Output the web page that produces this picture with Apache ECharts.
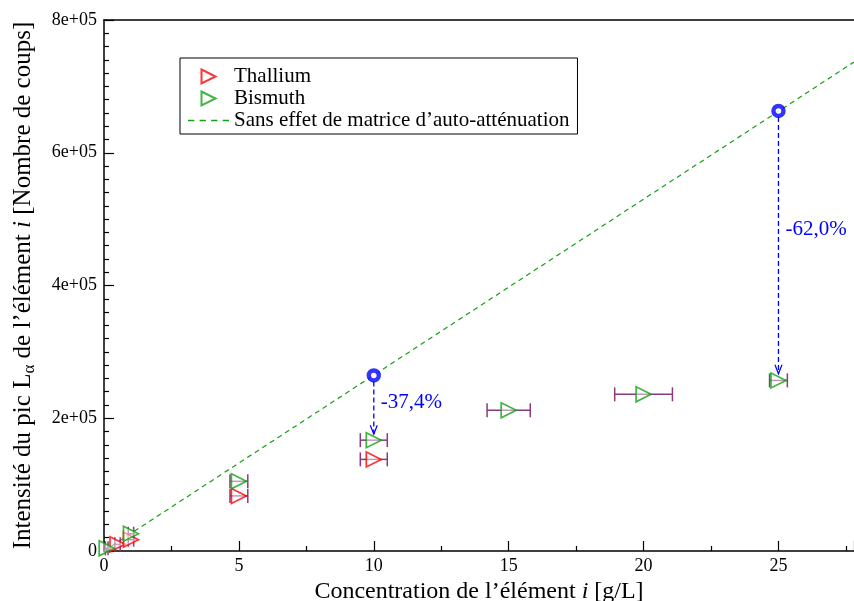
<!DOCTYPE html>
<html><head><meta charset="utf-8">
<script src="https://cdn.jsdelivr.net/npm/echarts@6/dist/echarts.min.js"></script>
<style>html,body{margin:0;padding:0;background:#fff}#c{width:854px;height:601px}</style>
</head><body><div id="c"></div>
<script>
const thalliumX = [0.5, 1.0, 5, 10];
const thalliumY = [10000, 17000, 83000, 138000];
const thalliumXErr = [0.1, 0.1, 0.33, 0.5];
const bismuthX = [0.1, 1.0, 5, 10, 15, 20, 25];
const bismuthY = [4000, 26000, 105000, 167000, 212000, 236000, 257000];
const bismuthXErr = [0.05, 0.1, 0.33, 0.5, 0.8, 1.07, 0.33];
const refLineX = [0, 27.8];
const refLineY = [0, 736700];
const refPointX = [10, 25];
const refPointY = [264500, 663000];
const arrowTipY = [176000, 267000];
const dropLabels = ['-37,4%', '-62,0%'];
const dropLabelY = [224000, 484000];
const xAxisMax = 27.8;
const yAxisMax = 800000;

const FONT = 'Liberation Serif';
const RED = '#ff0000', GREEN = '#14a014', BLUE = '#0000ff', ERR = '#8a3a7e';
const triPath = 'path://M0,0 L14,7 L0,14 Z';
const dashIcon = 'path://M0,0h6v1.3h-6z M11,0h6v1.3h-6z M22,0h6v1.3h-6z M33,0h6v1.3h-6z';

function errData(xs, ys, es) { return xs.map((x, i) => [x, ys[i], x - es[i], x + es[i]]); }
function errRender(params, api) {
  const y = api.value(1);
  const a = api.coord([api.value(2), y]);
  const b = api.coord([api.value(3), y]);
  const st = { stroke: ERR, lineWidth: 1.5 };
  return { type: 'group', children: [
    { type: 'line', shape: { x1: a[0], y1: a[1], x2: b[0], y2: b[1] }, style: st },
    { type: 'line', shape: { x1: a[0], y1: a[1] - 7, x2: a[0], y2: a[1] + 7 }, style: st },
    { type: 'line', shape: { x1: b[0], y1: b[1] - 7, x2: b[0], y2: b[1] + 7 }, style: st }
  ]};
}
const arrowData = refPointX.map((x, i) => [x, refPointY[i], arrowTipY[i], dropLabelY[i]]);
function arrowRender(params, api) {
  const x = api.value(0);
  const top = api.coord([x, api.value(1)]);
  const tip = api.coord([x, api.value(2)]);
  const lab = api.coord([x, api.value(3)]);
  const st = { stroke: BLUE, lineWidth: 1.3, lineDash: [5, 3] };
  return { type: 'group', children: [
    { type: 'line', shape: { x1: top[0], y1: top[1] + 6, x2: tip[0], y2: tip[1] }, style: st },
    { type: 'polyline', shape: { points: [[tip[0] - 3.5, tip[1] - 9], [tip[0], tip[1]], [tip[0] + 3.5, tip[1] - 9]] }, style: { stroke: BLUE, lineWidth: 1.2, fill: null } },
    { type: 'text', x: lab[0] + 7, y: lab[1], style: { text: dropLabels[params.dataIndex], fill: BLUE, font: '21px "' + FONT + '"', verticalAlign: 'middle', align: 'left' } }
  ]};
}

const chart = echarts.init(document.getElementById('c'), null, { renderer: 'canvas' });
chart.setOption({
  animation: false,
  backgroundColor: '#fff',
  grid: { left: 104, top: 20, right: 0, bottom: 50, containLabel: false, outerBoundsMode: 'none' },
  legend: {
    left: 180, top: 58, orient: 'vertical',
    padding: [8, 8, 3, 8], itemGap: 1, itemWidth: 41, itemHeight: 14,
    borderColor: '#000', borderWidth: 1, backgroundColor: '#fff',
    textStyle: { fontFamily: FONT, fontSize: 21, color: '#000', lineHeight: 21 },
    data: ['Thallium', 'Bismuth', { name: 'Sans effet de matrice d\u2019auto-atténuation', icon: dashIcon, itemStyle: { color: GREEN } }]
  },
  xAxis: [{
    type: 'value', min: 0, max: xAxisMax, interval: 5,
    name: 'Concentration de l\u2019élément {it|i} [g/L]', nameLocation: 'middle', nameGap: 25,
    nameTextStyle: { fontFamily: FONT, fontSize: 24, color: '#000', rich: { it: { fontFamily: FONT, fontStyle: 'italic', fontSize: 24 } } },
    axisLine: { lineStyle: { color: '#000', width: 1.5 } },
    axisTick: { inside: true, length: 10, lineStyle: { color: '#000', width: 1.2 } },
    minorTick: { show: true, splitNumber: 2, length: 5, lineStyle: { color: '#000', width: 1.2 } },
    axisLabel: { fontFamily: FONT, fontSize: 18, color: '#000', margin: 6, showMaxLabel: false },
    splitLine: { show: false }
  }, {
    type: 'value', position: 'top', min: 0, max: xAxisMax,
    axisLine: { show: true, lineStyle: { color: '#000', width: 1.5 } },
    axisTick: { show: false }, axisLabel: { show: false }, splitLine: { show: false }
  }],
  yAxis: {
    type: 'value', min: 0, max: yAxisMax, interval: 200000,
    name: 'Intensité du pic L{sub|\u03b1} de l\u2019élément {it|i} [Nombre de coups]',
    nameLocation: 'middle', nameGap: 66, nameRotate: 90,
    nameTextStyle: { fontFamily: FONT, fontSize: 25, color: '#000', lineHeight: 30,
      rich: { sub: { fontFamily: FONT, fontSize: 17, lineHeight: 12, verticalAlign: 'bottom' },
              it: { fontFamily: FONT, fontStyle: 'italic', fontSize: 25, lineHeight: 30 } } },
    axisLine: { lineStyle: { color: '#000', width: 1.5 } },
    axisTick: { inside: true, length: 10, lineStyle: { color: '#000', width: 1.2 } },
    minorTick: { show: true, splitNumber: 10, length: 5, lineStyle: { color: '#000', width: 1.2 } },
    axisLabel: { fontFamily: FONT, fontSize: 18, color: '#000', margin: 7,
      formatter: v => v === 0 ? '0' : v.toExponential(0).replace(/e\+(\d)$/, 'e+0$1') },
    splitLine: { show: false }
  },
  series: [
    { name: 'Sans effet de matrice d\u2019auto-atténuation', type: 'line', symbol: 'none', z: 1,
      data: refLineX.map((x, i) => [x, refLineY[i]]),
      lineStyle: { color: GREEN, width: 1.2, type: [5, 4] }, itemStyle: { color: GREEN } },
    { name: 'errTl', type: 'custom', renderItem: errRender, data: errData(thalliumX, thalliumY, thalliumXErr), z: 2, encode: { x: [0, 2, 3], y: 1 } },
    { name: 'errBi', type: 'custom', renderItem: errRender, data: errData(bismuthX, bismuthY, bismuthXErr), z: 2, encode: { x: [0, 2, 3], y: 1 } },
    { name: 'Thallium', type: 'scatter', symbol: triPath, symbolSize: 15, z: 3,
      data: thalliumX.map((x, i) => [x, thalliumY[i]]),
      itemStyle: { color: 'rgba(255,255,255,0.6)', borderColor: RED, borderWidth: 1.7 } },
    { name: 'Bismuth', type: 'scatter', symbol: triPath, symbolSize: 15, z: 4,
      data: bismuthX.map((x, i) => [x, bismuthY[i]]),
      itemStyle: { color: 'rgba(255,255,255,0.6)', borderColor: GREEN, borderWidth: 1.7 } },
    { name: 'arrows', type: 'custom', renderItem: arrowRender, data: arrowData, z: 5, encode: { x: 0, y: [1, 2] } },
    { name: 'refPoints', type: 'scatter', symbol: 'circle', symbolSize: 10, z: 6,
      data: refPointX.map((x, i) => [x, refPointY[i]]),
      itemStyle: { color: '#fff', borderColor: BLUE, borderWidth: 4.4 } }
  ]
});
</script></body></html>
